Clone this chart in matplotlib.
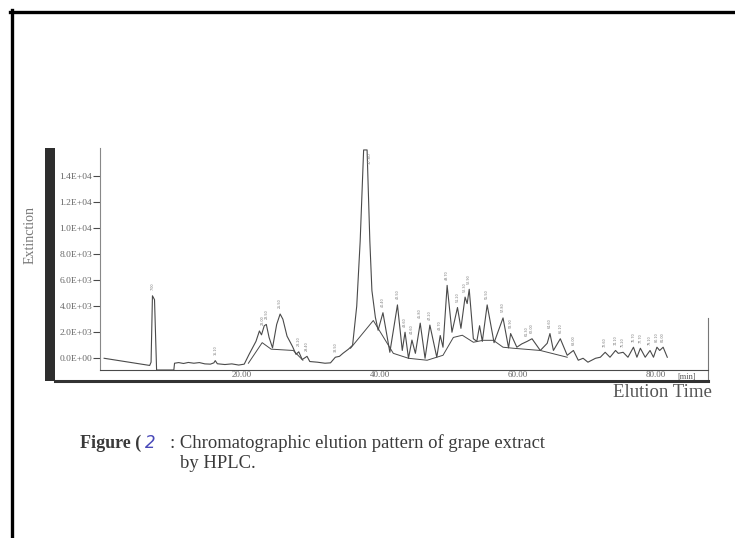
import numpy as np
import matplotlib
matplotlib.use("Agg")
import matplotlib.pyplot as plt
from matplotlib.lines import Line2D
from matplotlib.patches import Rectangle

# retention time (min) and detector response of the trace
signal_t = [0, 6.6, 6.8, 7.0, 7.3, 7.6, 10.1, 10.2, 10.8, 11.5, 12.2, 13.0, 13.8, 14.6, 15.4, 15.9,
            16.1, 16.4, 17.5, 18.5, 19.5, 20.3, 21.0, 22.0, 22.5, 22.8, 23.2, 23.5, 23.9, 24.4,
            25.0, 25.5, 25.9, 26.5, 27.3, 27.8, 28.2, 28.7, 29.4, 29.8, 30.9, 32.0, 32.8, 33.5,
            34.1, 34.6, 35.4, 36.0, 36.6, 37.1, 37.6, 38.1, 38.5, 38.8, 39.3, 39.7, 40.4, 41.4,
            42.5, 43.2, 43.6, 44.1, 44.6, 45.1, 45.8, 46.5, 47.2, 48.2, 48.7, 49.1, 49.7, 50.4,
            51.2, 51.7, 52.3, 52.6, 52.9, 53.5, 54.0, 54.4, 54.8, 55.5, 56.5, 57.8, 58.6, 58.9,
            59.8, 60.5, 61.3, 62.0, 63.2, 64.2, 64.6, 65.1, 66.1, 67.1, 68.0, 68.7, 69.4, 70.1,
            71.2, 71.9, 72.6, 73.3, 74.1, 74.5, 75.2, 75.9, 76.7, 77.2, 77.7, 78.4, 79.1, 79.6,
            80.1, 80.5, 81.0, 81.6]
signal_v = [0, -550, -300, 4800, 4500, -900, -900, -380, -330, -400, -320, -380, -330, -430, -450, -350,
            -180, -420, -480, -430, -520, -450, 300, 1300, 2100, 1800, 2500, 2600, 1600, 800,
            2600, 3400, 3000, 1700, 900, 300, 500, -100, 150, -250, -300, -380, -350, 80,
            150, 380, 700, 1000, 4000, 9000, 16000, 16000, 9000, 5200, 3150, 2150, 3500, 460,
            4100, 600, 2000, 0, 1400, 380, 2700, 0, 2550, 80, 1750, 850, 5600, 2000,
            3900, 2300, 4700, 4200, 5300, 1500, 1300, 2500, 1300, 4100, 1200, 3100, 800, 1900,
            850, 1100, 1300, 1500, 600, 1150, 1900, 600, 1500, 230, 600, -150, 0, -300,
            0, 80, 460, 80, 600, 380, 460, 80, 850, 80, 770, 80, 600, 80,
            850, 600, 850, 80]

# integration baselines drawn under the peak clusters
base1_t = [20.9, 22.9, 24.2, 27.4, 28.8]
base1_v = [-380, 1200, 700, 600, -150]
base2_t = [35.7, 39.0, 41.9, 44.1, 46.8, 49.1, 50.6, 51.9, 53.5, 54.9, 56.4, 57.8, 59.3, 63.2, 67.1]
base2_v = [770, 2900, 380, 0, -150, 230, 1600, 1770, 1230, 1380, 1380, 850, 770, 600, 80]

peak_times = [7.0, 16.1, 23.0, 23.5, 25.5, 28.2, 29.4, 33.5, 40.4, 42.5, 43.6, 44.6, 45.8,
              47.2, 48.7, 49.7, 51.2, 52.3, 52.9, 55.5, 57.8, 58.9, 61.3, 62.0, 64.6, 66.1,
              68.0, 72.6, 74.1, 75.2, 76.7, 77.7, 79.1, 80.1, 81.0]
main_peak = 37.8

yticks = [0, 2000, 4000, 6000, 8000, 10000, 12000, 14000]
xticks = [20, 40, 60, 80]

serif = "Liberation Serif"
ink = "#4a4a4a"

fig = plt.figure(figsize=(7.35, 5.38), dpi=100)
W, H = 735, 538
ax = fig.add_axes([100 / W, 1 - 370 / H, 608 / W, 222 / H])

ax.plot(signal_t, signal_v, color=ink, lw=0.8)
ax.plot(base1_t, base1_v, color=ink, lw=0.7)
ax.plot(base2_t, base2_v, color=ink, lw=0.7)

# tiny retention-time marks above the peaks
for t in peak_times:
    v = np.interp(t, signal_t, signal_v)
    ax.annotate(f"{t:.2f}", (t, v), xytext=(0, 4), textcoords="offset points",
                ha="center", va="bottom", rotation=90, fontsize=2.4, color="#777777")
ax.annotate(f"{main_peak:.2f}", (main_peak, 16000), xytext=(2, -2), textcoords="offset points",
            ha="left", va="top", rotation=90, fontsize=3, color="#777777")

ax.set_xlim(-0.6, 87.5)
ax.set_ylim(-900, 16150)
ax.set_yticks(yticks)
ax.set_yticklabels([f"{v:.1E}" for v in yticks], fontfamily=serif, fontsize=6.8, color="#666666")
ax.set_xticks(xticks)
ax.set_xticklabels([f"{v:.2f}" for v in xticks], fontfamily=serif, fontsize=6.5, color="#666666")
ax.tick_params(axis="y", direction="out", length=5, width=0.8, pad=0.5, color=ink)
ax.tick_params(axis="x", length=0, pad=1)
for s in ["top", "right"]:
    ax.spines[s].set_visible(False)
ax.spines["left"].set_color("#888888")
ax.spines["bottom"].set_color(ink)
ax.spines["left"].set_linewidth(0.8)
ax.spines["bottom"].set_linewidth(0.8)

# short right edge and thick lower rule of the scanned frame
ax.plot([1, 1], [0.234, -0.05], transform=ax.transAxes, color="#777777", lw=0.8, clip_on=False)
ax.plot([-0.074, 1], [-0.05, -0.05], transform=ax.transAxes, color="#333333", lw=2.2, clip_on=False)
ax.text(0.965, -0.012, "[min]", transform=ax.transAxes, fontfamily=serif, fontsize=6,
        color="#555555", ha="center", va="top")
ax.text(1.007, -0.064, "Elution Time", transform=ax.transAxes, fontfamily=serif, fontsize=13.5,
        color="#555555", ha="right", va="top")

fig.text(30 / W, 1 - 235 / H, "Extinction", rotation=90, fontfamily=serif, fontsize=10,
         color="#777777", ha="center", va="center")

# dark scan bar beside the axis
fig.add_artist(Rectangle((45 / W, 1 - 381 / H), 10 / W, 233 / H, transform=fig.transFigure,
                         color="#2e2e2e", lw=0))

# page border
fig.add_artist(Line2D([11.5 / W, 11.5 / W], [0, 1 - 10 / H], color="black", lw=2.4))
fig.add_artist(Line2D([10 / W, 1], [1 - 11.5 / H, 1 - 11.5 / H], color="black", lw=2.4))

# caption
cy = 1 - 443 / H
fig.text(80 / W, cy, "Figure (", fontfamily=serif, fontsize=13, fontweight="bold",
         color="#3a3a3a", va="center")
fig.text(145 / W, cy, "2", fontsize=12, style="italic", color="#4848b8", va="center")
fig.text(170 / W, cy, ": Chromatographic elution pattern of grape extract", fontfamily=serif,
         fontsize=13.4, color="#3a3a3a", va="center")
fig.text(180 / W, 1 - 463 / H, "by HPLC.", fontfamily=serif, fontsize=13.4, color="#3a3a3a",
         va="center")

fig.savefig("out.png", dpi=100)
